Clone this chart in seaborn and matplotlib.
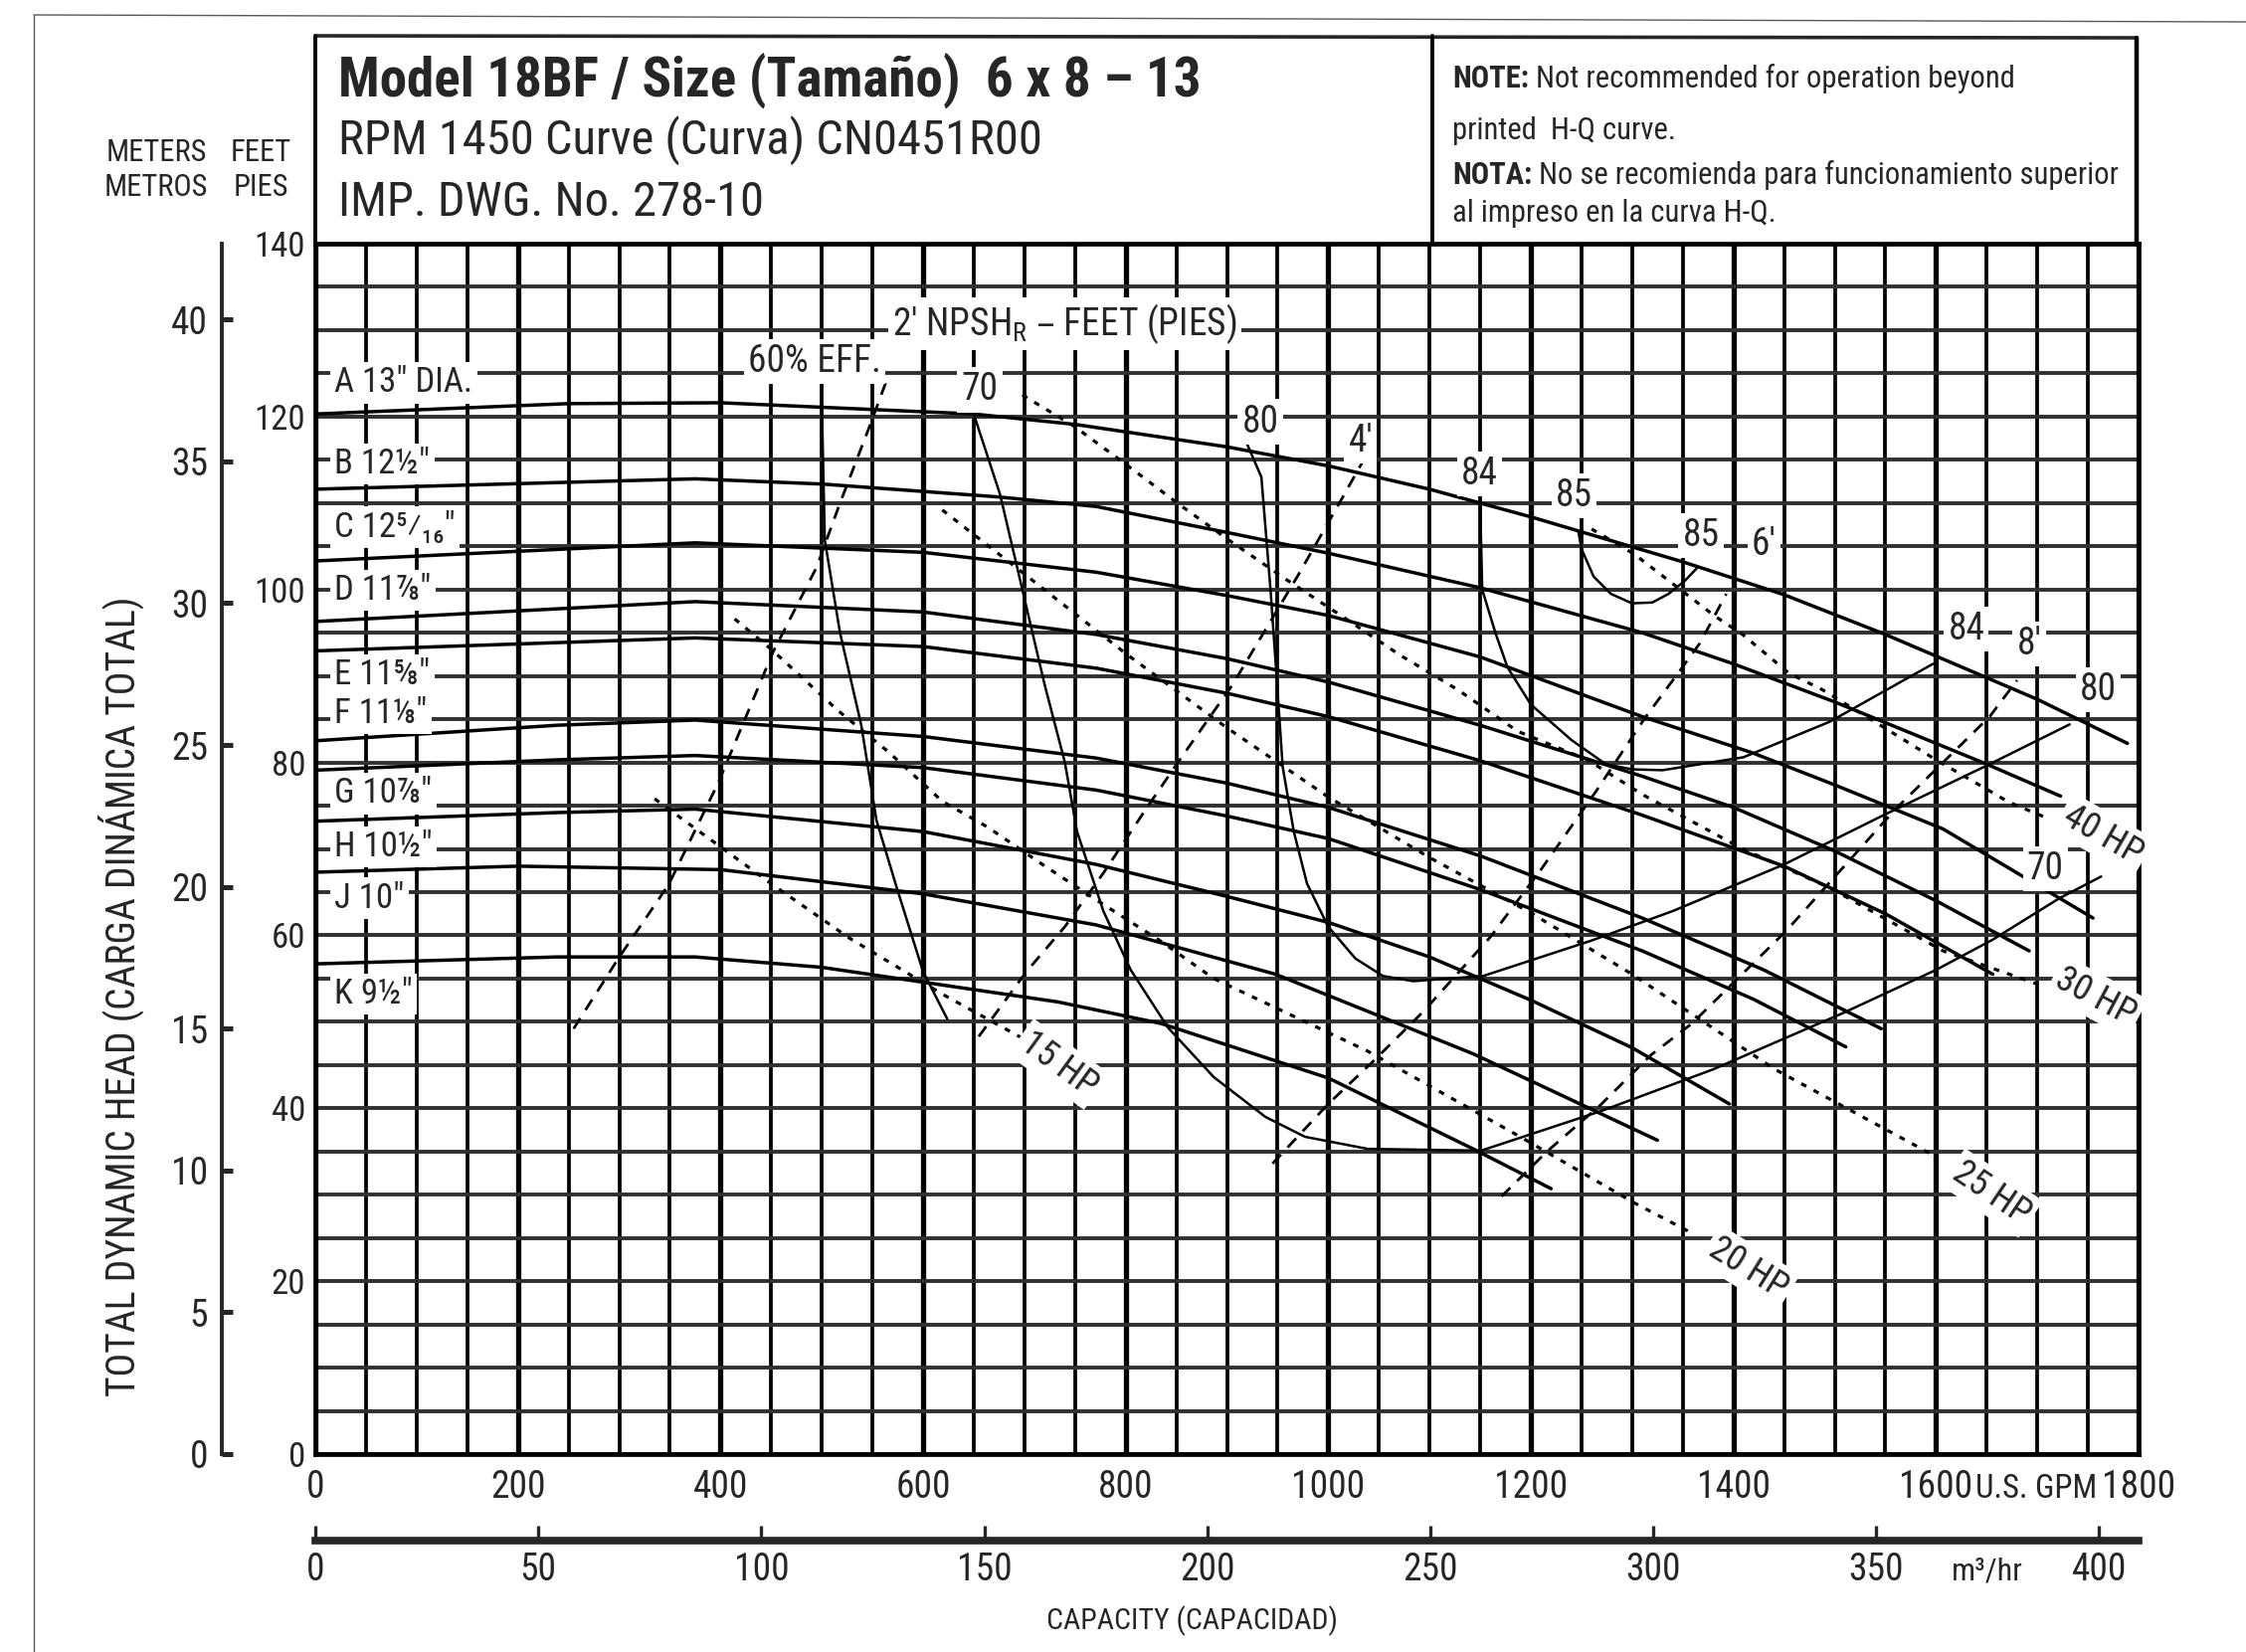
import matplotlib
matplotlib.use("Agg")
import matplotlib.pyplot as plt
from matplotlib import font_manager
from matplotlib.lines import Line2D
import seaborn as sns
import pandas as pd
import numpy as np

# ---- impeller H-Q curves (US GPM, feet) ----
A_GPM = [0, 250, 400, 650, 750, 900, 1000, 1100, 1200, 1350, 1450, 1550, 1600, 1700, 1789]
A_FT = [120.3, 121.5, 121.6, 120.3, 119.1, 116.5, 114.3, 111.6, 108.4, 103.2, 99.4, 94.8, 92.3, 87.3, 82.2]
B_GPM = [0, 280, 375, 500, 675, 771, 900, 1000, 1150, 1310, 1400, 1500, 1650, 1723]
B_FT = [111.6, 112.5, 112.8, 112.2, 110.7, 109.6, 106.6, 104.2, 100.2, 95.0, 91.4, 87.0, 79.8, 76.1]
C_GPM = [0, 375, 600, 771, 900, 1000, 1150, 1310, 1419, 1500, 1607, 1755]
C_FT = [103.3, 105.4, 104.3, 102.0, 99.3, 97.0, 92.2, 85.3, 81.1, 77.4, 72.3, 62.0]
D_GPM = [0, 375, 600, 771, 900, 1000, 1150, 1310, 1400, 1501, 1600, 1692]
D_FT = [96.3, 98.6, 97.4, 94.8, 92.0, 89.3, 84.3, 78.4, 74.8, 69.7, 64.0, 58.2]
E_GPM = [0, 375, 600, 771, 900, 1000, 1150, 1310, 1450, 1550, 1656]
E_FT = [92.9, 94.4, 93.4, 90.9, 88.0, 85.3, 80.2, 73.9, 68.0, 62.5, 55.5]
F_GPM = [0, 239, 375, 600, 771, 900, 1000, 1150, 1310, 1430, 1546]
F_FT = [82.5, 84.3, 84.9, 83.0, 80.5, 77.6, 74.8, 69.2, 62.0, 56.0, 49.2]
G_GPM = [0, 239, 375, 600, 771, 900, 1000, 1150, 1310, 1420, 1511]
G_FT = [79.1, 80.3, 80.8, 79.4, 76.8, 73.8, 71.2, 65.3, 58.2, 52.6, 47.1]
H_GPM = [0, 239, 375, 600, 771, 900, 1000, 1100, 1200, 1300, 1396]
H_FT = [73.2, 74.2, 74.6, 72.0, 68.2, 64.5, 61.5, 57.5, 52.5, 47.0, 40.5]
J_GPM = [0, 200, 400, 600, 771, 948, 1143, 1325]
J_FT = [67.3, 68.0, 67.6, 64.8, 61.2, 55.5, 46.3, 36.3]
K_GPM = [0, 239, 375, 500, 733, 835, 1000, 1143, 1220]
K_FT = [56.7, 57.5, 57.5, 56.3, 52.3, 49.8, 43.5, 35.3, 30.7]

DIA_LABELS = ['A 13" DIA.', 'B 12½"', 'C 12⁵⁄₁₆"', 'D 11⅞"', 'E 11⅝"',
              'F 11⅛"', 'G 10⅞"', 'H 10½"', 'J 10"', 'K 9½"']
DIA_LABEL_FT = [123.9, 114.5, 107.2, 99.9, 90.1, 85.7, 76.4, 70.2, 64.3, 53.2]

# ---- efficiency curves (path order) ----
EFF60_GPM = [500, 503, 518, 539, 554, 573, 600, 624]
EFF60_FT = [121.6, 105.7, 95.0, 84.3, 73.3, 65.9, 55.8, 50.3]
EFF70_GPM = [650, 676, 700, 720, 740, 752, 778, 805, 842, 887, 938, 977, 1039, 1151,
             1270, 1380, 1508, 1600, 1656, 1722, 1763]
EFF70_FT = [120.3, 111.0, 99.0, 89.0, 80.0, 72.0, 62.8, 56.0, 49.3, 43.6, 39.0, 36.7, 35.3, 35.1,
            39.7, 44.5, 51.0, 56.0, 59.5, 64.3, 66.8]
EFF80_GPM = [920, 934, 943, 949, 955, 966, 979, 1000, 1027, 1054, 1084, 1153, 1260, 1340,
             1450, 1550, 1653, 1732]
EFF80_FT = [116.8, 113.0, 100.0, 90.0, 79.5, 72.0, 66.0, 61.0, 57.3, 55.3, 54.7, 55.3, 59.4, 62.8,
            68.2, 74.0, 79.8, 84.4]
EFF84_GPM = [1150, 1152, 1165, 1177, 1200, 1240, 1274, 1300, 1330, 1410, 1495, 1597]
EFF84_FT = [110.0, 100.0, 95.0, 91.0, 86.7, 82.6, 79.8, 79.2, 79.1, 80.6, 84.7, 91.4]
EFF85_GPM = [1247, 1250, 1262, 1279, 1300, 1320, 1336, 1352, 1365]
EFF85_FT = [106.7, 104.7, 101.5, 99.5, 98.4, 98.5, 99.5, 101.0, 102.6]

# ---- NPSHr lines (dashed) ----
NPSH2_GPM = [255, 299, 349, 398, 452, 495, 518, 546, 565]
NPSH2_FT = [49.2, 57.3, 65.9, 77.7, 92.8, 102.6, 110.0, 118.5, 124.5]
NPSH4_GPM = [655, 702, 740, 778, 820, 851, 905, 947, 970, 1012, 1035]
NPSH4_FT = [48.3, 55.8, 61.0, 67.2, 74.6, 79.9, 88.9, 97.1, 101.6, 110.2, 115.0]
NPSH6_GPM = [945, 1000, 1045, 1094, 1160, 1210, 1264, 1313, 1344, 1367, 1393]
NPSH6_FT = [33.6, 40.5, 45.5, 51.2, 59.8, 67.6, 76.6, 85.2, 90.1, 93.8, 99.5]
NPSH8_GPM = [1171, 1216, 1269, 1318, 1359, 1452, 1560, 1653, 1680]
NPSH8_FT = [29.8, 35.0, 40.4, 46.1, 49.8, 60.5, 74.6, 85.3, 89.5]

# ---- horsepower lines (dotted) ----
HP15_GPM = [335, 364, 451, 527, 619, 695, 715]
HP15_FT = [75.8, 73.3, 65.9, 59.7, 53.2, 48.3, 47.2]
HP20_GPM = [414, 451, 516, 566, 619, 664, 714, 771, 835, 887, 1039, 1191, 1303, 1360]
HP20_FT = [96.6, 93.0, 86.0, 81.2, 75.5, 72.5, 68.5, 64.1, 59.3, 55.0, 46.6, 36.6, 29.0, 25.5]
HP25_GPM = [619, 700, 800, 900, 1000, 1100, 1200, 1300, 1441, 1600]
HP25_FT = [109.2, 101.8, 92.6, 84.0, 76.0, 69.0, 62.6, 55.5, 44.5, 34.4]
HP30_GPM = [698, 749, 800, 851, 902, 958, 1015, 1071, 1128, 1187, 1256, 1310, 1409, 1495, 1607, 1699]
HP30_FT = [122.5, 118.9, 114.5, 110.0, 105.7, 101.2, 96.8, 92.4, 88.4, 83.6, 80.3, 76.3, 70.0, 65.5, 58.2, 54.4]
HP40_GPM = [1260, 1302, 1382, 1409, 1455, 1488, 1541, 1600, 1672, 1711]
HP40_FT = [107.0, 104.1, 96.9, 94.8, 90.3, 88.4, 84.6, 80.3, 75.4, 73.5]

# ---- in-chart labels ----
NOTE_TEXT = ["60% EFF.", "2' NPSH$_{\\mathregular{R}}$ – FEET (PIES)", "70", "80", "4'", "84", "85", "85",
             "6'", "84", "8'", "80", "70"]
NOTE_GPM = [493, 740, 656, 933, 1032, 1149, 1243, 1368, 1430, 1630, 1692, 1760, 1708]
NOTE_FT = [126.4, 130.7, 123.1, 119.4, 117.2, 113.4, 110.8, 106.2, 105.2, 95.4, 93.7, 88.4, 67.7]
HP_TEXT = ["15 HP", "20 HP", "25 HP", "30 HP", "40 HP"]
HP_GPM = [734, 1415, 1655, 1758, 1765]
HP_FT = [45.1, 21.5, 30.2, 52.9, 71.6]
HP_ROT = [-36, -32, -34, -28, -30]

GPM_TICKS = [0, 200, 400, 600, 800, 1000, 1200, 1400, 1600, 1800]
M3H_TICKS = [0, 50, 100, 150, 200, 250, 300, 350, 400]
FT_TICKS = [0, 20, 40, 60, 80, 100, 120, 140]
M_TICKS = [0, 5, 10, 15, 20, 25, 30, 35, 40]

GPM_PER_M3H = 4.40287
FT_PER_M = 3.28084


def long_frame(curves):
    rows = []
    for name, (q, h) in curves.items():
        rows += [(name, a, b) for a, b in zip(q, h)]
    return pd.DataFrame(rows, columns=["curve", "gpm", "ft"])


hq = long_frame({"A": (A_GPM, A_FT), "B": (B_GPM, B_FT), "C": (C_GPM, C_FT), "D": (D_GPM, D_FT),
                 "E": (E_GPM, E_FT), "F": (F_GPM, F_FT), "G": (G_GPM, G_FT), "H": (H_GPM, H_FT),
                 "J": (J_GPM, J_FT), "K": (K_GPM, K_FT)})
eff = long_frame({"60": (EFF60_GPM, EFF60_FT), "70": (EFF70_GPM, EFF70_FT), "80": (EFF80_GPM, EFF80_FT),
                  "84": (EFF84_GPM, EFF84_FT), "85": (EFF85_GPM, EFF85_FT)})
npsh = long_frame({"2": (NPSH2_GPM, NPSH2_FT), "4": (NPSH4_GPM, NPSH4_FT),
                   "6": (NPSH6_GPM, NPSH6_FT), "8": (NPSH8_GPM, NPSH8_FT)})
hp = long_frame({"15": (HP15_GPM, HP15_FT), "20": (HP20_GPM, HP20_FT), "25": (HP25_GPM, HP25_FT),
                 "30": (HP30_GPM, HP30_FT), "40": (HP40_GPM, HP40_FT)})

sns.set_style("white")
# the original uses a condensed face; take one if the machine has it
have = {f.name for f in font_manager.fontManager.ttflist}
narrow = [n for n in ["Roboto Condensed", "Liberation Sans Narrow", "Open Sans Condensed",
                      "DejaVu Sans Condensed"] if n in have]
plt.rcParams["font.family"] = narrow[:1] + ["DejaVu Sans"]
plt.rcParams["font.stretch"] = "condensed"

W, H = 2258, 1661
fig = plt.figure(figsize=(W / 100, H / 100), dpi=100)


def fx(px):
    return px / W


def fy(py):
    return 1 - py / H


# plot area in pixels: x 317..2150, y 245 (140 ft) .. 1462 (0 ft)
ax = fig.add_axes([fx(317), fy(1462), (2150 - 317) / W, (1462 - 245) / H])
ax.set_xlim(0, 1800)
ax.set_ylim(0, 140)
PX_PER_FT = (1462 - 245) / 140


def ydat(py):
    return (1462 - py) / PX_PER_FT


# grid
ax.set_xticks(GPM_TICKS)
ax.set_xticks(np.arange(0, 1801, 50), minor=True)
ax.set_yticks(FT_TICKS)
ax.set_yticks(np.arange(0, 141, 5), minor=True)
ax.grid(which="major", axis="x", color="black", lw=3.8)
ax.grid(which="minor", axis="x", color="black", lw=2.7)
ax.grid(which="both", axis="y", color="#303030", lw=2.8)
for s in ax.spines.values():
    s.set_linewidth(3.4)
    s.set_color("black")

ax.set_xticklabels([str(t) for t in GPM_TICKS], fontsize=27)
ax.tick_params(axis="x", which="both", length=0, pad=11)
ax.set_yticklabels([str(t) for t in FT_TICKS], fontsize=25)
ax.tick_params(axis="y", which="both", length=0, pad=7)
usgpm = ax.text(1699, ydat(1497), "U.S. GPM", fontsize=26, ha="center", va="center", clip_on=False)

# curves
line_kw = dict(x="gpm", y="ft", units="curve", estimator=None, sort=False,
               color="black", legend=False, ax=ax)
sns.lineplot(data=hq, lw=2.5, zorder=3, **line_kw)
sns.lineplot(data=eff, lw=1.8, zorder=3, **line_kw)
sns.lineplot(data=npsh, lw=2.0, linestyle=(0, (4.5, 3.5)), zorder=3, **line_kw)
sns.lineplot(data=hp, lw=2.3, linestyle=(0, (1.8, 2.6)), zorder=3, **line_kw)
ax.set_xlabel("")
ax.set_ylabel("")

box = dict(facecolor="white", edgecolor="none", pad=3)
for lab, ft in zip(DIA_LABELS, DIA_LABEL_FT):
    ax.text(19, ft, lab, fontsize=25, ha="left", va="center", bbox=box, zorder=4)
for lab, q, ft in zip(NOTE_TEXT, NOTE_GPM, NOTE_FT):
    ax.text(q, ft, lab, fontsize=27, ha="center", va="center", bbox=box, zorder=4)
for lab, q, ft, rot in zip(HP_TEXT, HP_GPM, HP_FT, HP_ROT):
    ax.text(q, ft, lab, fontsize=26, ha="center", va="center", rotation=rot,
            rotation_mode="anchor", bbox=box, zorder=4, clip_on=False)

# metres scale on the left
secy = ax.secondary_yaxis((223 - 317) / (2150 - 317),
                          functions=(lambda f: f / FT_PER_M, lambda m: m * FT_PER_M))
secy.set_yticks(M_TICKS)
secy.set_yticklabels([str(t) for t in M_TICKS], fontsize=27)
secy.spines["left"].set_linewidth(2.8)
secy.tick_params(direction="in", length=8, width=3.6, pad=10)

# m3/hr scale below
secx = ax.secondary_xaxis(-(1549 - 1462) / (1462 - 245),
                          functions=(lambda q: q / GPM_PER_M3H, lambda m: m * GPM_PER_M3H))
secx.set_xticks(M3H_TICKS)
secx.set_xticklabels([str(t) for t in M3H_TICKS], fontsize=27)
secx.spines["bottom"].set_linewidth(5.5)
secx.tick_params(direction="in", length=11, width=2.4, pad=8)
ax.text(375 * GPM_PER_M3H, ydat(1580), "m³/hr", fontsize=23, ha="center", va="center", clip_on=False)

# axis titles
fig.text(fx(157), fy(171), "METERS\nMETROS", fontsize=22, ha="center", va="center", linespacing=1.3)
fig.text(fx(262), fy(171), "FEET\nPIES", fontsize=22, ha="center", va="center", linespacing=1.3)
ylab = fig.text(fx(122), fy(1002), "TOTAL DYNAMIC HEAD (CARGA DINÁMICA TOTAL)", fontsize=28.5,
                rotation=90, ha="center", va="center")
fig.text(fx(1198), fy(1630), "CAPACITY (CAPACIDAD)", fontsize=21.5, ha="center", va="center")

# title block and note box
t1 = fig.text(fx(340), fy(97), "Model 18BF / Size (Tamaño)  6 x 8 – 13", fontsize=40,
              weight="bold", va="baseline")
t2 = fig.text(fx(340), fy(155), "RPM 1450 Curve (Curva) CN0451R00", fontsize=34, va="baseline")
t3 = fig.text(fx(340), fy(217), "IMP. DWG. No. 278-10", fontsize=34, va="baseline")

n1 = fig.text(fx(1460), fy(88), "NOTE:", fontsize=24, weight="bold", va="baseline")
n1b = ax.annotate(" Not recommended for operation beyond", xy=(1, 0), xycoords=n1,
                  fontsize=24, va="bottom", annotation_clip=False)
n2 = fig.text(fx(1460), fy(140), "printed  H-Q curve.", fontsize=24, va="baseline")
n3 = fig.text(fx(1460), fy(185), "NOTA:", fontsize=24, weight="bold", va="baseline")
n3b = ax.annotate(" No se recomienda para funcionamiento superior", xy=(1, 0), xycoords=n3,
                  fontsize=24, va="bottom", annotation_clip=False)
n4 = fig.text(fx(1460), fy(223), "al impreso en la curva H-Q.", fontsize=24, va="baseline")


def fit_width(texts, target_px, others=(), grow=True):
    fig.canvas.draw()
    r = fig.canvas.get_renderer()
    w = sum(t.get_window_extent(r).width for t in texts)
    k = target_px / w
    if not grow:
        k = min(k, 1.0)
    for t in list(texts) + list(others):
        t.set_fontsize(t.get_fontsize() * k)


fit_width([t1], 1207 - 340)
fit_width([t2], 1048 - 340, others=[t3])
fit_width([n3, n3b], 2130 - 1460, others=[n1, n1b, n2, n4])
fit_width([usgpm], 122, grow=False)
fit_width([ylab], 900, grow=False)

frame = [
    ([34, 2258], [15, 22], 1.0, "0.35"),
    ([34, 34], [15, 1661], 1.0, "0.35"),
    ([317, 2148], [36, 38], 2.6, "0.15"),
    ([317, 317], [36, 245], 2.8, "black"),
    ([1440, 1440], [36, 245], 2.8, "black"),
    ([2148, 2148], [38, 245], 3.2, "black"),
]
for xs, ys, lw, c in frame:
    fig.add_artist(Line2D([fx(v) for v in xs], [fy(v) for v in ys], lw=lw, color=c,
                          transform=fig.transFigure))

fig.savefig("out.png", dpi=100)
